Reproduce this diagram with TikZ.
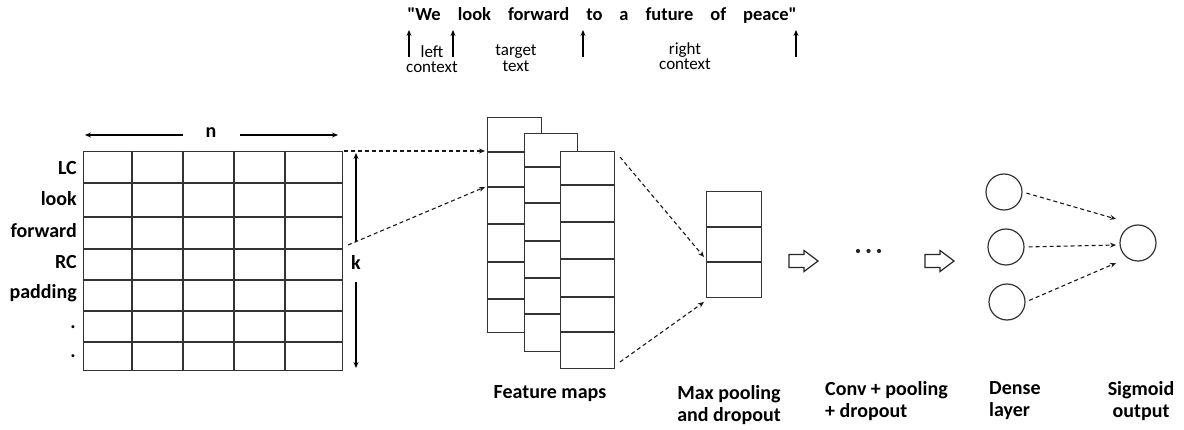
\documentclass[tikz,border=0pt]{standalone}
\usepackage{fontspec}
\setmainfont{Carlito}
\newfontfamily\plainquotefont{Carlito}[Ligatures=TeXOff]
\usetikzlibrary{arrows.meta}
\begin{document}
\begin{tikzpicture}[x=1pt,y=-1pt,
  lbl/.style={font=\fontsize{20}{22}\selectfont\bfseries, inner sep=0pt, text=black},
  qt/.style={font=\plainquotefont\fontsize{18.5}{20}\selectfont\bfseries, inner sep=0pt, text=black},
  small/.style={font=\fontsize{17}{15.5}\selectfont, inner sep=0pt, align=center, text=black},
  gridline/.style={draw=black!80, line width=1.25pt},
  cell/.style={draw=black!80, line width=1.25pt, fill=white, inner sep=0pt, anchor=north west},
  dsh/.style={dash pattern=on 4pt off 3pt, line width=1.1pt, draw=black!90, -{Stealth[length=6pt,width=5pt]}},
  tip/.style={line width=1.2pt, draw=black, -{Stealth[length=6pt,width=5pt]}},
  neuron/.style={circle, draw=black!80, line width=1.2pt, minimum size=36pt, inner sep=0pt},
  blockarrow/.style={draw=black!85, line width=1.2pt, fill=white}
]
\useasboundingbox (0,0) rectangle (1184,430);

% ---------- top sentence ----------
\node[qt] (quote) at (602,15) {"We\hspace{17pt}look\hspace{17pt}forward\hspace{17pt}to\hspace{17pt}a\hspace{17pt}future\hspace{17pt}of\hspace{17pt}peace"};
\coordinate (q1b) at (409,57); \coordinate (q1t) at (409,30);
\coordinate (q2b) at (453,57); \coordinate (q2t) at (453,30);
\coordinate (q3b) at (583,57); \coordinate (q3t) at (583,30);
\coordinate (q4b) at (796,57); \coordinate (q4t) at (796,30);
\draw[tip] (q1b) -- (q1t);
\draw[tip] (q2b) -- (q2t);
\draw[tip] (q3b) -- (q3t);
\draw[tip] (q4b) -- (q4t);
\node[small] (lctx) at (432,59) {left\\context};
\node[small] (tgt) at (516,58) {target\\text};
\node[small] (rctx) at (685,56) {right\\context};

% ---------- input matrix ----------
\node[cell, minimum width=259pt, minimum height=219pt] (mat) at (83,151) {};
\foreach \x in {132,183,234,285} \draw[gridline] (\x,151) -- (\x,370);
\foreach \y in {183,217,249,280,311,342} \draw[gridline] (83,\y) -- (342,\y);

\node[lbl, anchor=mid east] (rLC) at (77,172) {LC};
\node[lbl, anchor=mid east] (rlook) at (77,203) {look};
\node[lbl, anchor=mid east] (rfwd) at (77,235) {forward};
\node[lbl, anchor=mid east] (rRC) at (77,266) {RC};
\node[lbl, anchor=mid east] (rpad) at (77,296) {padding};
\node[lbl, anchor=mid east] (rd1) at (76,326) {.};
\node[lbl, anchor=mid east] (rd2) at (76,355) {.};

% n dimension
\node[lbl] (n) at (211,133) {n};
\coordinate (nLs) at (183,135); \coordinate (nLe) at (85,135);
\coordinate (nRs) at (240,135); \coordinate (nRe) at (338,135);
\draw[tip] (nLs) -- (nLe);
\draw[tip] (nRs) -- (nRe);
% k dimension
\node[lbl] (k) at (356,262) {k};
\coordinate (kUs) at (356,242); \coordinate (kUe) at (356,153);
\coordinate (kDs) at (356,282); \coordinate (kDe) at (356,368);
\draw[tip] (kUs) -- (kUe);
\draw[tip] (kDs) -- (kDe);

% ---------- feature maps ----------
\node[cell, minimum width=54pt, minimum height=215pt] (fm1) at (487,117) {};
\foreach \y in {152,187,224,262,299} \draw[gridline] (487,\y) -- (541,\y);
\node[cell, minimum width=53pt, minimum height=218pt] (fm2) at (524,133) {};
\foreach \y in {167,203,241,278,314} \draw[gridline] (524,\y) -- (577,\y);
\node[cell, minimum width=54pt, minimum height=217pt] (fm3) at (560,151) {};
\foreach \y in {185,222,259,297,332} \draw[gridline] (560,\y) -- (614,\y);

\coordinate (m1) at (344,151);
\coordinate (m2) at (348,245);
\coordinate (f1) at (485,151);
\coordinate (f2) at (485,187);
\draw[dsh] (m1) -- (f1);
\draw[dsh] (m2) -- (f2);

% ---------- max pooling ----------
\node[cell, minimum width=55pt, minimum height=106pt] (mp) at (706,191) {};
\foreach \y in {227,262} \draw[gridline] (706,\y) -- (761,\y);
\coordinate (fo1) at (620,157);
\coordinate (fo2) at (620,362);
\coordinate (p1) at (704,257);
\coordinate (p2) at (704,302);
\draw[dsh] (fo1) -- (p1);
\draw[dsh] (fo2) -- (p2);

% ---------- block arrows and dots ----------
\coordinate (ba1) at (789,248);
\coordinate (ba2) at (925,248);
\foreach \b in {ba1,ba2}
  \draw[blockarrow] ([yshift=-6.5pt]\b) -- ++(15,0) -- ++(0,-4) -- ++(14,10.5) -- ++(-14,10.5) -- ++(0,-4) -- ++(-15,0) -- cycle;
\coordinate (dots) at (868.5,251);
\fill[black!85] ([xshift=-10.5pt]dots) circle (2.1pt) (dots) circle (2.1pt) ([xshift=10.5pt]dots) circle (2.1pt);

% ---------- dense layer and output ----------
\node[neuron] (d1) at (1004,192) {};
\node[neuron] (d2) at (1006,247) {};
\node[neuron] (d3) at (1007,302) {};
\node[neuron] (out) at (1138,243) {};
\coordinate (o1) at (1116,219);
\coordinate (o2) at (1116,245);
\coordinate (o3) at (1116,263);
\draw[dsh, shorten <=4pt] (d1.east) -- (o1);
\draw[dsh, shorten <=4pt] (d2.east) -- (o2);
\draw[dsh, shorten <=4pt] (d3.east) -- (o3);

% ---------- bottom labels ----------
\node[lbl] (lfm) at (550,394) {Feature maps};
\node[lbl, align=center] (lmp) at (729,405) {Max pooling\\and dropout};
\node[lbl, align=left, anchor=west] (lconv) at (825,401) {Conv + pooling\\+ dropout};
\node[lbl, align=left, anchor=west] (ldense) at (989,401) {Dense\\layer};
\node[lbl, align=center] (lsig) at (1141,401) {Sigmoid\\output};
\end{tikzpicture}
\end{document}
